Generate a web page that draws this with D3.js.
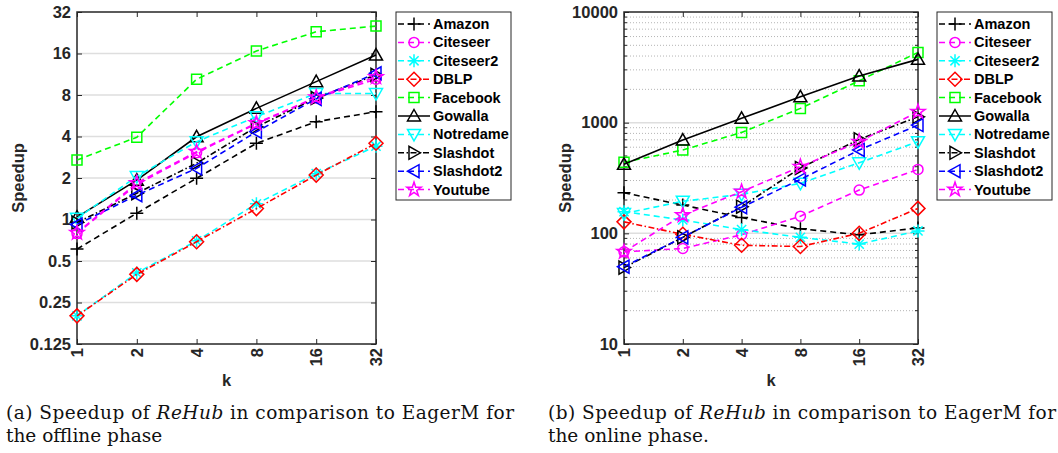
<!DOCTYPE html>
<html>
<head>
<meta charset="utf-8">
<script src="https://cdn.jsdelivr.net/npm/d3@7"></script>
<style>
  body { margin: 0; background: #fff; }
  .tick text { font-family: "Liberation Sans", Arial, sans-serif; font-weight: bold; font-size: 16.5px; fill: #262626; }
  .lbl { font-family: "Liberation Sans", Arial, sans-serif; font-weight: bold; font-size: 16.5px; fill: #262626; }
  .leg { font-family: "Liberation Sans", Arial, sans-serif; font-weight: bold; font-size: 14.5px; fill: #000; }
  .cap { font-family: "DejaVu Serif", serif; font-size: 18.5px; fill: #111; }
</style>
</head>
<body>
<svg id="chart" width="1058" height="453"></svg>
<script>
// k values along x
var kValues = [1, 2, 4, 8, 16, 32];
var kLabels = ["1", "2", "4", "8", "16", "32"];

var seriesNames = ["Amazon", "Citeseer", "Citeseer2", "DBLP", "Facebook", "Gowalla", "Notredame", "Slashdot", "Slashdot2", "Youtube"];

// offline phase speedups (panel a)
var offAmazon    = [0.61, 1.11, 1.99, 3.57, 5.12, 6.05];
var offCiteseer  = [0.79, 1.80, 3.05, 4.95, 7.6, 10.4];
var offCiteseer2 = [0.20, 0.41, 0.70, 1.30, 2.15, 3.4];
var offDBLP      = [0.20, 0.40, 0.69, 1.20, 2.10, 3.57];
var offFacebook  = [2.7, 3.95, 10.4, 16.7, 23, 25.3];
var offGowalla   = [1.04, 1.93, 3.98, 6.4, 10.0, 15.6];
var offNotredame = [1.02, 2.05, 3.67, 5.57, 8.2, 8.2];
var offSlashdot  = [0.95, 1.55, 2.56, 4.7, 7.6, 11.2];
var offSlashdot2 = [0.92, 1.50, 2.35, 4.33, 7.5, 11.5];
var offYoutube   = [0.80, 1.84, 3.10, 5.0, 7.7, 10.8];

// online phase speedups (panel b)
var onAmazon    = [233, 180, 139, 110, 97, 112];
var onCiteseer  = [68, 73, 97, 143, 246, 378];
var onCiteseer2 = [157, 132, 108, 92, 80, 105];
var onDBLP      = [127, 98, 78, 76, 100, 168];
var onFacebook  = [438, 566, 817, 1346, 2391, 4315];
var onGowalla   = [420, 697, 1094, 1714, 2636, 3732];
var onNotredame = [151, 195, 225, 283, 434, 673];
var onSlashdot  = [49, 92, 174, 390, 706, 1130];
var onSlashdot2 = [50, 92, 172, 307, 566, 951];
var onYoutube   = [68, 146, 238, 400, 673, 1256];

var offTicks = [0.125, 0.25, 0.5, 1, 2, 4, 8, 16, 32];
var offTickLabels = ["0.125", "0.25", "0.5", "1", "2", "4", "8", "16", "32"];
var onTicks = [10, 100, 1000, 10000];
var onTickLabels = ["10", "100", "1000", "10000"];

var captionA = ["(a) Speedup of ", "ReHub", " in comparison to EagerM for", "the offline phase"];
var captionB = ["(b) Speedup of ", "ReHub", " in comparison to EagerM for", "the online phase."];

var offData = [offAmazon, offCiteseer, offCiteseer2, offDBLP, offFacebook, offGowalla, offNotredame, offSlashdot, offSlashdot2, offYoutube];
var onData = [onAmazon, onCiteseer, onCiteseer2, onDBLP, onFacebook, onGowalla, onNotredame, onSlashdot, onSlashdot2, onYoutube];

// style per series: colour, dash, marker
var styles = [
  {color: "#000000", dash: "6,4", marker: "plus"},
  {color: "#ff00ff", dash: "6,4", marker: "circle"},
  {color: "#00ffff", dash: "6,4", marker: "asterisk"},
  {color: "#ff0000", dash: "6,2.5,1.5,2.5", marker: "diamond"},
  {color: "#00ff00", dash: "6,4", marker: "square"},
  {color: "#000000", dash: null, marker: "triup"},
  {color: "#00ffff", dash: "6,4", marker: "tridown"},
  {color: "#000000", dash: "6,2.5,1.5,2.5", marker: "triright"},
  {color: "#0000ff", dash: "6,4", marker: "trileft"},
  {color: "#ff00ff", dash: "6,4", marker: "star"}
];

function markerPath(type) {
  switch (type) {
    case "plus": return "M-6.5,0H6.5M0,-6.5V6.5";
    case "asterisk": return "M-6.5,0H6.5M0,-6.5V6.5M-4.6,-4.6L4.6,4.6M-4.6,4.6L4.6,-4.6";
    case "circle": return "M5,0A5,5 0 1,1 -5,0A5,5 0 1,1 5,0Z";
    case "diamond": return "M0,-7L7,0L0,7L-7,0Z";
    case "square": return "M-5,-5H5V5H-5Z";
    case "triup": return "M0,-6.5L6.5,5L-6.5,5Z";
    case "tridown": return "M0,6.5L6.5,-5L-6.5,-5Z";
    case "triright": return "M6.5,0L-5,-6.5L-5,6.5Z";
    case "trileft": return "M-6.5,0L5,-6.5L5,6.5Z";
    case "star":
      var pts = [];
      for (var i = 0; i < 10; i++) {
        var r = i % 2 === 0 ? 7.5 : 2.9;
        var a = -Math.PI / 2 + i * Math.PI / 5;
        pts.push([r * Math.cos(a), r * Math.sin(a)]);
      }
      return "M" + pts.map(p => p[0].toFixed(2) + "," + p[1].toFixed(2)).join("L") + "Z";
  }
}

var svg = d3.select("#chart");

function drawPanel(opt) {
  var x = d3.scaleLog().base(2).domain([1, 32]).range([opt.left, opt.right]);
  var y = d3.scaleLog().base(opt.base).domain(opt.domain).range([opt.bottom, opt.top]);
  var g = svg.append("g");

  // minor grid (dotted)
  if (opt.minor) {
    g.selectAll(".minor").data(opt.minor).enter().append("line")
      .attr("x1", opt.left).attr("x2", opt.right)
      .attr("y1", d => y(d)).attr("y2", d => y(d))
      .attr("stroke", "#b5b5b5").attr("stroke-width", 1).attr("stroke-dasharray", "1,2");
  }
  // major grid
  g.selectAll(".major").data(opt.ticks.slice(1, -1)).enter().append("line")
    .attr("x1", opt.left).attr("x2", opt.right)
    .attr("y1", d => y(d)).attr("y2", d => y(d))
    .attr("stroke", "#dedede").attr("stroke-width", 1.5);

  // axes
  var yAxis = d3.axisLeft(y).tickValues(opt.ticks)
    .tickFormat((d, i) => opt.tickLabels[i]).tickSizeInner(-5).tickSizeOuter(0).tickPadding(6);
  var ya = g.append("g").attr("transform", `translate(${opt.left},0)`).call(yAxis);
  ya.select(".domain").remove();
  ya.selectAll("line").attr("stroke", "#262626");

  var yAxisR = d3.axisRight(y).tickValues(opt.ticks).tickFormat("").tickSizeInner(-5).tickSizeOuter(0);
  var yr = g.append("g").attr("transform", `translate(${opt.right},0)`).call(yAxisR);
  yr.select(".domain").remove();
  yr.selectAll("line").attr("stroke", "#262626");

  if (opt.minor) {
    [opt.left, opt.right].forEach(function(px, j) {
      g.selectAll(null).data(opt.minor).enter().append("line")
        .attr("x1", px).attr("x2", j === 0 ? px + 3 : px - 3)
        .attr("y1", d => y(d)).attr("y2", d => y(d))
        .attr("stroke", "#262626").attr("stroke-width", 1);
    });
  }

  var xAxis = d3.axisBottom(x).tickValues(kValues)
    .tickFormat((d, i) => kLabels[i]).tickSizeInner(-5).tickSizeOuter(0);
  var xa = g.append("g").attr("transform", `translate(0,${opt.bottom})`).call(xAxis);
  xa.select(".domain").remove();
  xa.selectAll("line").attr("stroke", "#262626");
  xa.selectAll("text")
    .attr("transform", "rotate(-90)")
    .attr("text-anchor", "end")
    .attr("x", -4).attr("y", 0).attr("dy", "0.35em");

  var xAxisT = d3.axisTop(x).tickValues(kValues).tickFormat("").tickSizeInner(-5).tickSizeOuter(0);
  var xt = g.append("g").attr("transform", `translate(0,${opt.top})`).call(xAxisT);
  xt.select(".domain").remove();
  xt.selectAll("line").attr("stroke", "#262626");

  // box
  g.append("rect")
    .attr("x", opt.left).attr("y", opt.top)
    .attr("width", opt.right - opt.left).attr("height", opt.bottom - opt.top)
    .attr("fill", "none").attr("stroke", "#262626").attr("stroke-width", 1.5);

  // axis labels
  g.append("text").attr("class", "lbl")
    .attr("transform", `translate(${opt.left - 53},${(opt.top + opt.bottom) / 2}) rotate(-90)`)
    .attr("text-anchor", "middle").text("Speedup");
  g.append("text").attr("class", "lbl")
    .attr("x", (opt.left + opt.right) / 2).attr("y", 386)
    .attr("text-anchor", "middle").text("k");

  // series
  var line = d3.line().x((d, i) => x(kValues[i])).y(d => y(d));
  opt.data.forEach(function(vals, s) {
    var st = styles[s];
    g.append("path").datum(vals)
      .attr("d", line)
      .attr("fill", "none").attr("stroke", st.color).attr("stroke-width", 1.6)
      .attr("stroke-dasharray", st.dash);
    g.selectAll(null).data(vals).enter().append("path")
      .attr("transform", (d, i) => `translate(${x(kValues[i])},${y(d)})`)
      .attr("d", markerPath(st.marker))
      .attr("fill", "none").attr("stroke", st.color).attr("stroke-width", 1.5);
  });

  // legend
  var lx = opt.legendX, ly = 12;
  var lg = g.append("g");
  lg.append("rect").attr("x", lx).attr("y", ly).attr("width", 115).attr("height", 188)
    .attr("fill", "#fff").attr("stroke", "#262626").attr("stroke-width", 1);
  seriesNames.forEach(function(name, s) {
    var st = styles[s];
    var cy = ly + 12 + s * 18.4;
    lg.append("line").attr("x1", lx + 2).attr("x2", lx + 34).attr("y1", cy).attr("y2", cy)
      .attr("stroke", st.color).attr("stroke-width", 1.5).attr("stroke-dasharray", st.dash);
    lg.append("path").attr("transform", `translate(${lx + 18},${cy})`)
      .attr("d", markerPath(st.marker))
      .attr("fill", "none").attr("stroke", st.color).attr("stroke-width", 1.5);
    lg.append("text").attr("class", "leg").attr("x", lx + 37).attr("y", cy + 5).text(name);
  });

  // caption
  var cap = g.append("text").attr("class", "cap").attr("x", opt.capX).attr("y", 419)
    .attr("textLength", 508).attr("lengthAdjust", "spacing");
  cap.append("tspan").text(opt.caption[0]);
  cap.append("tspan").attr("font-style", "italic").text(opt.caption[1]);
  cap.append("tspan").text(opt.caption[2]);
  g.append("text").attr("class", "cap").attr("x", opt.capX).attr("y", 442).text(opt.caption[3]);
}

// minor ticks for log10 axis
var onMinor = [];
[10, 100, 1000].forEach(function(dec) {
  d3.range(2, 10).forEach(function(m) { onMinor.push(dec * m); });
});

drawPanel({
  left: 77, right: 376, top: 12, bottom: 344,
  base: 2, domain: [0.125, 32], ticks: offTicks, tickLabels: offTickLabels,
  data: offData, legendX: 396, capX: 6, caption: captionA
});

drawPanel({
  left: 624, right: 918, top: 12, bottom: 344,
  base: 10, domain: [10, 10000], ticks: onTicks, tickLabels: onTickLabels, minor: onMinor,
  data: onData, legendX: 937, capX: 548, caption: captionB
});
</script>
</body>
</html>
